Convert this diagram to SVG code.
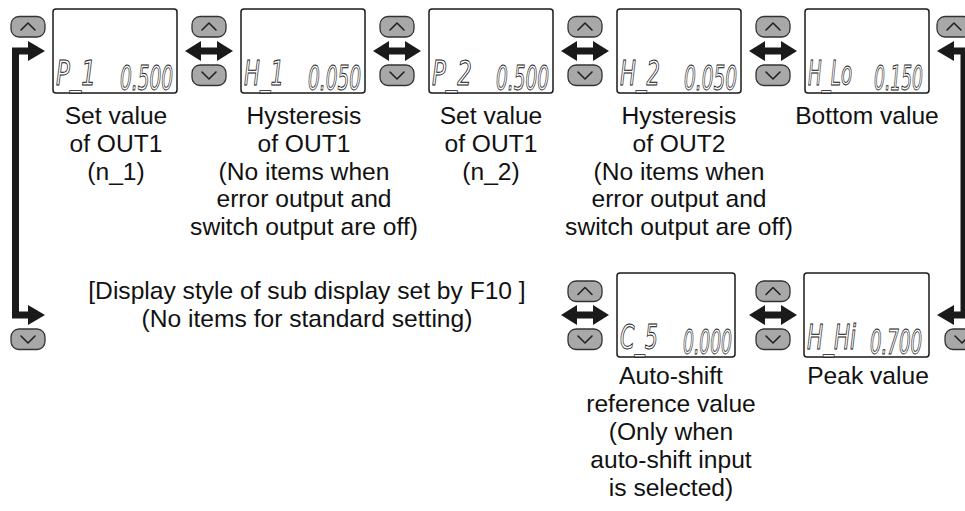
<svg xmlns="http://www.w3.org/2000/svg" width="965" height="511" viewBox="0 0 965 511">
<style>
.box{fill:#fff;stroke:#1a1a1a;stroke-width:1.5}
.seg{font-family:"Liberation Sans Narrow","DejaVu Sans Condensed","Liberation Sans",sans-serif;font-style:italic;font-size:33px;fill:#fff;stroke:#111;stroke-width:0.9}
.lbl{font-family:"Liberation Sans",Arial,sans-serif;font-size:24.6px;fill:#111;text-anchor:middle}
.btn{fill:#a8a8a8;stroke:#333;stroke-width:1.3}
.chev{fill:none;stroke:#222;stroke-width:1.6;stroke-linejoin:round;stroke-linecap:round}
.arr{fill:#1a1a1a}
.line{fill:none;stroke:#1a1a1a;stroke-width:7}
</style>
<defs>
<g id="up"><rect class="btn" x="0" y="0" width="34" height="20.5" rx="8"/><polyline class="chev" points="10,13.5 17,6.5 24,13.5"/></g>
<g id="dn"><rect class="btn" x="0" y="0" width="34" height="20.5" rx="8"/><polyline class="chev" points="10,7 17,14 24,7"/></g>
<polygon id="dbl" class="arr" points="-24,0 -8,-10 -8,-3.5 8,-3.5 8,-10 24,0 8,10 8,3.5 -8,3.5 -8,10"/>
</defs>

<g id="connectors">
<path class="line" d="M30,51 H15.5 V315 H30"/>
<polygon class="arr" points="28,41 45,51 28,61"/>
<polygon class="arr" points="28,305 45,315 28,325"/>
<path class="line" d="M952,51 H964 V315 H952"/>
<polygon class="arr" points="954,41 937,51 954,61"/>
<polygon class="arr" points="954,305 937,315 954,325"/>
<use href="#dbl" x="209" y="51"/>
<use href="#dbl" x="397" y="51"/>
<use href="#dbl" x="585" y="51"/>
<use href="#dbl" x="773" y="51"/>
<use href="#dbl" x="585" y="315"/>
<use href="#dbl" x="773" y="315"/>
</g>

<g id="buttons">
<use href="#up" x="11" y="16.5"/>
<use href="#dn" x="11" y="329"/>
<use href="#up" x="192" y="16.5"/><use href="#dn" x="192" y="65"/>
<use href="#up" x="380" y="16.5"/><use href="#dn" x="380" y="65"/>
<use href="#up" x="568" y="16.5"/><use href="#dn" x="568" y="65"/>
<use href="#up" x="756" y="16.5"/><use href="#dn" x="756" y="65"/>
<use href="#up" x="937" y="16.5"/>
<use href="#up" x="568" y="281"/><use href="#dn" x="568" y="329"/>
<use href="#up" x="756" y="281"/><use href="#dn" x="756" y="329"/>
<use href="#dn" x="945" y="329"/>
</g>

<g id="n_P1">
<rect class="box" x="53" y="9" width="124" height="84" rx="3"/>
<text class="seg" x="56" y="85" textLength="40" lengthAdjust="spacingAndGlyphs">P_1</text>
<text class="seg" x="120" y="90" textLength="53" lengthAdjust="spacingAndGlyphs">0.500</text>
<text class="lbl" x="116" y="124">Set value</text>
<text class="lbl" x="116" y="152">of OUT1</text>
<text class="lbl" x="116" y="180">(n_1)</text>
</g>

<g id="n_H1">
<rect class="box" x="241" y="9" width="124" height="84" rx="3"/>
<text class="seg" x="244" y="85" textLength="40" lengthAdjust="spacingAndGlyphs">H_1</text>
<text class="seg" x="308" y="90" textLength="53" lengthAdjust="spacingAndGlyphs">0.050</text>
<text class="lbl" x="304" y="124">Hysteresis</text>
<text class="lbl" x="304" y="152">of OUT1</text>
<text class="lbl" x="304" y="180">(No items when</text>
<text class="lbl" x="304" y="207">error output and</text>
<text class="lbl" x="304" y="235">switch output are off)</text>
</g>

<g id="n_P2">
<rect class="box" x="429" y="9" width="124" height="84" rx="3"/>
<text class="seg" x="432" y="85" textLength="40" lengthAdjust="spacingAndGlyphs">P_2</text>
<text class="seg" x="496" y="90" textLength="53" lengthAdjust="spacingAndGlyphs">0.500</text>
<text class="lbl" x="491" y="124">Set value</text>
<text class="lbl" x="491" y="152">of OUT1</text>
<text class="lbl" x="491" y="180">(n_2)</text>
</g>

<g id="n_H2">
<rect class="box" x="617" y="9" width="124" height="84" rx="3"/>
<text class="seg" x="620" y="85" textLength="40" lengthAdjust="spacingAndGlyphs">H_2</text>
<text class="seg" x="684" y="90" textLength="53" lengthAdjust="spacingAndGlyphs">0.050</text>
<text class="lbl" x="679" y="124">Hysteresis</text>
<text class="lbl" x="679" y="152">of OUT2</text>
<text class="lbl" x="679" y="180">(No items when</text>
<text class="lbl" x="679" y="207">error output and</text>
<text class="lbl" x="679" y="235">switch output are off)</text>
</g>

<g id="n_HLo">
<rect class="box" x="805" y="9" width="124" height="84" rx="3"/>
<text class="seg" x="808" y="85" textLength="44" lengthAdjust="spacingAndGlyphs">H_Lo</text>
<text class="seg" x="874" y="90" textLength="49" lengthAdjust="spacingAndGlyphs">0.150</text>
<text class="lbl" x="867" y="124">Bottom value</text>
</g>

<g id="n_C5">
<rect class="box" x="617" y="273" width="118" height="84" rx="3"/>
<text class="seg" x="620" y="349" textLength="38" lengthAdjust="spacingAndGlyphs">C_5</text>
<text class="seg" x="683" y="354" textLength="49" lengthAdjust="spacingAndGlyphs">0.000</text>
<text class="lbl" x="671" y="384">Auto-shift</text>
<text class="lbl" x="671" y="412">reference value</text>
<text class="lbl" x="671" y="440">(Only when</text>
<text class="lbl" x="671" y="468">auto-shift input</text>
<text class="lbl" x="671" y="496">is selected)</text>
</g>

<g id="n_HHi">
<rect class="box" x="804" y="273" width="125" height="84" rx="3"/>
<text class="seg" x="807" y="349" textLength="49" lengthAdjust="spacingAndGlyphs">H_Hi</text>
<text class="seg" x="870" y="354" textLength="52" lengthAdjust="spacingAndGlyphs">0.700</text>
<text class="lbl" x="868" y="384">Peak value</text>
</g>

<g id="note">
<text class="lbl" x="307" y="299">[Display style of sub display set by F10 ]</text>
<text class="lbl" x="307" y="327">(No items for standard setting)</text>
</g>
</svg>
